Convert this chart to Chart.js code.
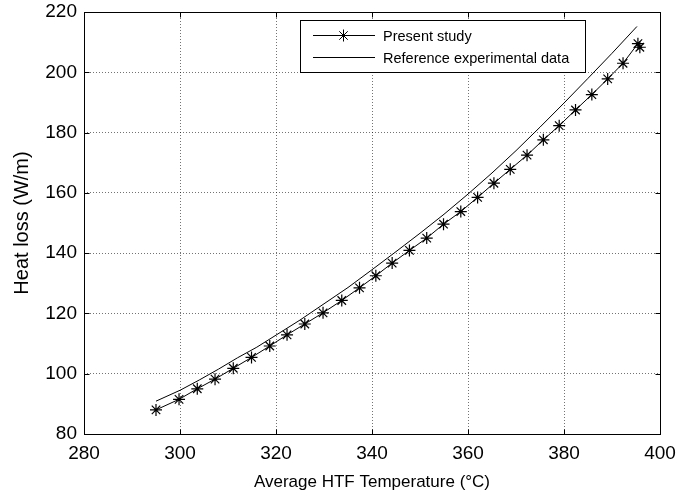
<!DOCTYPE html>
<html>
<head>
<meta charset="utf-8">
<title>Heat loss vs HTF temperature</title>
<script src="https://cdn.jsdelivr.net/npm/chart.js@4"></script>
<style>
  html, body { margin: 0; padding: 0; background: #fff; }
  #chart { display: block; }
</style>
</head>
<body>
<canvas id="chart" width="677" height="495"></canvas>
<script>
(function () {
  'use strict';

  // values
  var presentTemp = [295.0, 299.8, 303.6, 307.3, 311.1, 314.9, 318.7, 322.3, 326.0, 329.8,
    333.7, 337.4, 340.8, 344.2, 347.8, 351.4, 354.9, 358.5, 362.0, 365.4,
    368.8, 372.3, 375.7, 379.0, 382.4, 385.8, 389.1, 392.3, 395.4, 395.8];
  var presentLoss = [88.0, 91.5, 95.0, 98.2, 101.8, 105.4, 109.2, 112.9, 116.5, 120.2,
    124.3, 128.5, 132.5, 136.7, 140.9, 145.0, 149.6, 153.8, 158.5, 163.2,
    167.8, 172.5, 177.6, 182.3, 187.5, 192.6, 197.8, 203.0, 209.5, 208.3];

  var refTemp = [295, 300, 304, 308, 312, 316, 320, 325, 330, 335, 340,
    345, 350, 355, 360, 365, 370, 375, 380, 385, 390, 395.2];
  var refLoss = [90.9, 94.5, 97.9, 101.5, 105.3, 108.8, 112.8, 117.8, 123.2, 128.6, 134.5,
    140.5, 146.6, 152.9, 159.6, 166.6, 174.0, 181.8, 189.8, 198.0, 206.3, 215.2];

  var xTicks = [280, 300, 320, 340, 360, 380, 400];
  var yTicks = [80, 100, 120, 140, 160, 180, 200, 220];

  var seriesNames = ['Present study', 'Reference experimental data'];

  var FONT = "'Liberation Sans', Arial, sans-serif";

  function toPoints(xs, ys) {
    return xs.map(function (x, i) { return { x: x, y: ys[i] }; });
  }

  function drawStar(ctx, x, y, r) {
    var d = r * Math.SQRT1_2;
    ctx.beginPath();
    ctx.moveTo(x - r, y); ctx.lineTo(x + r, y);
    ctx.moveTo(x, y - r); ctx.lineTo(x, y + r);
    ctx.moveTo(x - d, y - d); ctx.lineTo(x + d, y + d);
    ctx.moveTo(x - d, y + d); ctx.lineTo(x + d, y - d);
    ctx.stroke();
  }

  // box round the axes with inward ticks, like the original
  var framePlugin = {
    id: 'frame',
    afterDraw: function (chart) {
      var ctx = chart.ctx;
      var a = chart.chartArea;
      var xs = chart.scales.x, ys = chart.scales.y;
      var L = Math.round(a.left) + 0.5, R = Math.round(a.right) + 0.5;
      var T = Math.round(a.top) + 0.5, B = Math.round(a.bottom) + 0.5;
      var len = 5;
      ctx.save();
      ctx.strokeStyle = '#000';
      ctx.lineWidth = 1;
      ctx.strokeRect(L, T, R - L, B - T);
      ctx.beginPath();
      xTicks.forEach(function (v) {
        var px = Math.round(xs.getPixelForValue(v)) + 0.5;
        ctx.moveTo(px, B); ctx.lineTo(px, B - len);
        ctx.moveTo(px, T); ctx.lineTo(px, T + len);
      });
      yTicks.forEach(function (v) {
        var py = Math.round(ys.getPixelForValue(v)) + 0.5;
        ctx.moveTo(L, py); ctx.lineTo(L + len, py);
        ctx.moveTo(R, py); ctx.lineTo(R - len, py);
      });
      ctx.stroke();
      ctx.restore();
    }
  };

  // legend box inside the axes, top right
  var legendPlugin = {
    id: 'boxLegend',
    afterDraw: function (chart) {
      var ctx = chart.ctx;
      var bx = 300.5, by = 20.5, bw = 285, bh = 52;
      var rows = [35.5, 57.5];
      ctx.save();
      ctx.fillStyle = '#fff';
      ctx.fillRect(bx, by, bw, bh);
      ctx.strokeStyle = '#000';
      ctx.lineWidth = 1;
      ctx.strokeRect(bx, by, bw, bh);
      rows.forEach(function (ry, i) {
        ctx.beginPath();
        ctx.moveTo(313, ry); ctx.lineTo(375, ry);
        ctx.stroke();
        if (i === 0) drawStar(ctx, 343.5, ry, 6);
        ctx.fillStyle = '#000';
        ctx.font = '14.5px ' + FONT;
        ctx.textAlign = 'left';
        ctx.textBaseline = 'middle';
        ctx.fillText(seriesNames[i], 383, ry + 1);
      });
      ctx.restore();
    }
  };

  var gridOpts = { color: 'rgba(0,0,0,0.55)', lineWidth: 1, drawTicks: false };

  new Chart(document.getElementById('chart').getContext('2d'), {
    type: 'scatter',
    data: {
      datasets: [{
        label: seriesNames[0],
        data: toPoints(presentTemp, presentLoss),
        showLine: true,
        borderColor: '#000',
        backgroundColor: '#000',
        borderWidth: 1,
        pointStyle: 'star',
        pointRadius: 6,
        pointBorderWidth: 1.2,
        pointBorderColor: '#000'
      }, {
        label: seriesNames[1],
        data: toPoints(refTemp, refLoss),
        showLine: true,
        borderColor: '#000',
        borderWidth: 1,
        pointRadius: 0
      }]
    },
    options: {
      responsive: false,
      devicePixelRatio: 1,
      animation: false,
      events: [],
      layout: { padding: { top: 12, right: 17, left: 0, bottom: 0 } },
      plugins: {
        legend: { display: false },
        tooltip: { enabled: false }
      },
      scales: {
        x: {
          type: 'linear',
          min: 280,
          max: 400,
          afterBuildTicks: function (s) { s.ticks = xTicks.map(function (v) { return { value: v }; }); },
          afterFit: function (s) { s.height = 61; s.paddingLeft = 0; s.paddingRight = 0; },
          grid: gridOpts,
          border: { display: false, dash: [1, 2] },
          ticks: { color: '#000', font: { family: FONT, size: 19 }, padding: 8, maxRotation: 0 },
          title: {
            display: true,
            text: 'Average HTF Temperature (°C)',
            color: '#000',
            font: { family: FONT, size: 17 },
            padding: { top: 0, bottom: 2 }
          }
        },
        y: {
          min: 80,
          max: 220,
          afterBuildTicks: function (s) { s.ticks = yTicks.map(function (v) { return { value: v }; }); },
          afterFit: function (s) { s.width = 84; s.paddingTop = 0; s.paddingBottom = 0; },
          grid: gridOpts,
          border: { display: false, dash: [1, 2] },
          ticks: { color: '#000', font: { family: FONT, size: 19 }, padding: 7 },
          title: {
            display: true,
            text: 'Heat loss (W/m)',
            color: '#000',
            font: { family: FONT, size: 20 },
            padding: { top: 10, bottom: 0 }
          }
        }
      }
    },
    plugins: [framePlugin, legendPlugin]
  });
})();
</script>
</body>
</html>
